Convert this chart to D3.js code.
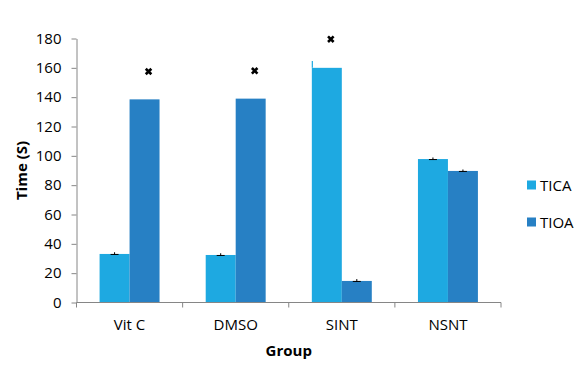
<!DOCTYPE html>
<html lang="en">
<head>
<meta charset="UTF-8">
<title>Time by group</title>
<style>
  body { margin: 0; background: #fff; }
  svg text { font-family: "Open Sans", "Noto Sans", sans-serif; fill: #000; }
</style>
</head>
<body>
<svg width="582" height="373" id="svg"></svg>
<script src="https://d3js.org/d3.v7.min.js"></script>
<script>
  // data
  const groups = ["Vit C", "DMSO", "SINT", "NSNT"]
  const series = ["TICA", "TIOA"]
  const tica = [33.1, 32.4, 160, 97.8]
  const tioa = [138.5, 139, 14.7, 89.7]
  const ticaErr = [0.5, 0.5, 0, 0.4]
  const tioaErr = [0, 0, 0.6, 0.3]
  // the SINT TICA bar has a stray whisker on its left edge in the original
  const ticaSpike = [0, 0, 4.7, 0]
  const yTicks = [0, 20, 40, 60, 80, 100, 120, 140, 160, 180]
  // significance marks: group, series, height
  const starGroups = ["Vit C", "DMSO", "SINT"]
  const starSeries = ["TIOA", "TIOA", "TICA"]
  const starValues = [157.5, 158, 179.5]

  const colors = { TICA: "#1ea9e1", TIOA: "#2780c4" }
  const axisColor = "#868686"

  const svg = d3.select("svg#svg")
  const pad = { left: 76.5, right: 501, top: 38.5, bottom: 302.5 }

  const x0 = d3.scaleBand().domain(groups).range([pad.left, pad.right])
    .paddingInner(0.435).paddingOuter(0.2175)
  const x1 = d3.scaleBand().domain(series).range([0, x0.bandwidth()])
  const y = d3.scaleLinear().domain([0, 180]).range([pad.bottom, pad.top])

  const rows = groups.map((g, i) => ({
    group: g,
    vals: [
      { s: "TICA", v: tica[i], e: ticaErr[i], k: ticaSpike[i] },
      { s: "TIOA", v: tioa[i], e: tioaErr[i], k: 0 }
    ]
  }))

  // bars
  const gBars = svg.append("g")
  rows.forEach(r => {
    gBars.selectAll(null).data(r.vals).join("rect")
      .attr("x", d => x0(r.group) + x1(d.s))
      .attr("y", d => y(d.v))
      .attr("width", x1.bandwidth())
      .attr("height", d => pad.bottom - y(d.v))
      .attr("fill", d => colors[d.s])
    gBars.selectAll(null).data(r.vals.filter(d => d.k > 0)).join("line")
      .attr("x1", d => x0(r.group) + x1(d.s) + 0.5)
      .attr("x2", d => x0(r.group) + x1(d.s) + 0.5)
      .attr("y1", d => y(d.v)).attr("y2", d => y(d.v + d.k))
      .attr("stroke", d => colors[d.s]).attr("stroke-width", 1.2)
  })

  // error bars
  rows.forEach(r => {
    const eg = gBars.selectAll(null).data(r.vals.filter(d => d.e > 0)).join("g")
      .attr("stroke", "#000").attr("stroke-width", 1)
    eg.append("line")
      .attr("x1", d => x0(r.group) + x1(d.s) + x1.bandwidth() / 2)
      .attr("x2", d => x0(r.group) + x1(d.s) + x1.bandwidth() / 2)
      .attr("y1", d => y(d.v - d.e)).attr("y2", d => y(d.v + d.e) - 1)
    eg.append("line")
      .attr("x1", d => x0(r.group) + x1(d.s) + x1.bandwidth() / 2 - 4)
      .attr("x2", d => x0(r.group) + x1(d.s) + x1.bandwidth() / 2 + 4)
      .attr("y1", d => y(d.v) + 0.5).attr("y2", d => y(d.v) + 0.5)
  })

  // stars
  svg.append("g").selectAll("path").data(starValues).join("path")
    .attr("d", d3.symbol(d3.symbolX, 22))
    .attr("transform", (d, i) => `translate(${x0(starGroups[i]) + x1(starSeries[i]) + x1.bandwidth() / 2 + 4},${y(d)})`)
    .attr("stroke", "#000").attr("stroke-width", 2.6).attr("fill", "none")

  // y axis
  const yAxis = d3.axisLeft(y).tickValues(yTicks).tickSize(5).tickSizeOuter(0).tickPadding(10)
  const gy = svg.append("g").attr("transform", `translate(${pad.left},0)`).call(yAxis)
  gy.selectAll("path, line").attr("stroke", axisColor)
  gy.selectAll("text").attr("font-size", 15).attr("font-family", null)

  // x axis (category boundaries)
  const gx = svg.append("g")
  gx.append("line").attr("x1", pad.left).attr("x2", pad.right).attr("y1", pad.bottom).attr("y2", pad.bottom)
    .attr("stroke", axisColor)
  gx.selectAll("line.tick").data(d3.range(groups.length + 1)).join("line").attr("class", "tick")
    .attr("x1", i => pad.left + i * x0.step()).attr("x2", i => pad.left + i * x0.step())
    .attr("y1", pad.bottom).attr("y2", pad.bottom + 5).attr("stroke", axisColor)
  gx.selectAll("text").data(groups).join("text")
    .attr("x", d => x0(d) + x0.bandwidth() / 2).attr("y", 330)
    .attr("text-anchor", "middle").attr("font-size", 15).text(d => d)

  // axis titles
  svg.append("text").attr("x", (pad.left + pad.right) / 2).attr("y", 356)
    .attr("text-anchor", "middle").attr("font-size", 15).attr("font-weight", "bold").text("Group")
  svg.append("text").attr("transform", `translate(27,${(pad.top + pad.bottom) / 2}) rotate(-90)`)
    .attr("text-anchor", "middle").attr("font-size", 15).attr("font-weight", "bold").text("Time (S)")

  // legend
  const lg = svg.append("g").selectAll("g").data(series).join("g")
    .attr("transform", (d, i) => `translate(527,${185 + i * 37})`)
  lg.append("rect").attr("x", 0).attr("y", -4.5).attr("width", 9).attr("height", 9)
    .attr("fill", d => colors[d])
  lg.append("text").attr("x", 13).attr("y", 5.5).attr("font-size", 15).text(d => d)
</script>
</body>
</html>
